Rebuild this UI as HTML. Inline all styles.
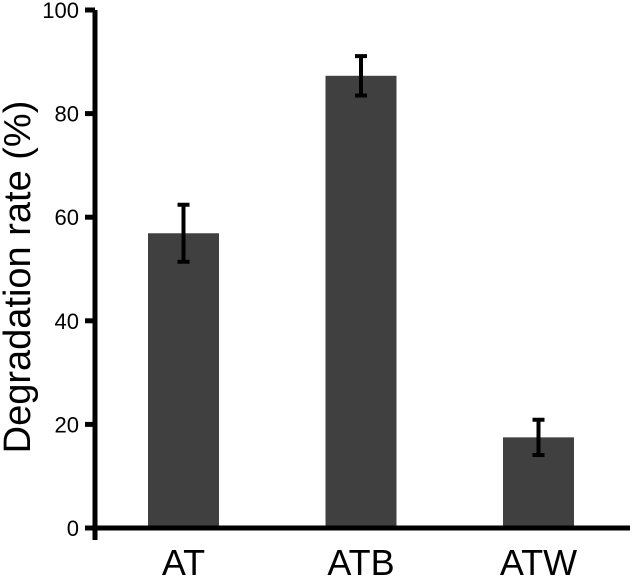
<!DOCTYPE html>
<html><head><meta charset="utf-8"><style>
body{margin:0;background:#fff}
svg{display:block;font-family:"Liberation Sans",sans-serif}
</style></head><body>
<svg width="633" height="580">
<g id="plot"></g>
<text transform="translate(30,277) rotate(-90)" text-anchor="middle" font-size="38" fill="#000">Degradation rate (%)</text>
</svg>
<script>
const categories = ["AT", "ATB", "ATW"];
const values = [56.9, 87.3, 17.5];
const errors = [5.5, 3.8, 3.4];
const yTicks = [0, 20, 40, 60, 80, 100];

const y0 = 528, y100 = 10, axisX = 95;
const y = v => y0 - (y0 - y100) * v / 100;
const centers = [183.5, 361, 538.5];
const x = i => centers[i];
const barW = 71;
const ns = "http://www.w3.org/2000/svg";
const g = document.getElementById('plot');
function mk(tag, attrs) {
  const e = document.createElementNS(ns, tag);
  for (const k in attrs) e.setAttribute(k, attrs[k]);
  g.appendChild(e);
  return e;
}
categories.forEach((c, i) => {
  const bar = mk('rect', {x: x(i) - barW / 2, y: y(values[i]), width: barW, height: y0 - y(values[i]), fill: '#404040'});
  
  
  const hi = y(values[i] + errors[i]), lo = y(values[i] - errors[i]);
  const eb = mk('path', {d: `M${x(i)},${hi}V${lo}M${x(i)-6},${hi}H${x(i)+6}M${x(i)-6},${lo}H${x(i)+6}`, stroke: '#000', 'stroke-width': 4, fill: 'none'});
  
  
  const t = mk('text', {x: x(i), y: 575, 'text-anchor': 'middle', 'font-size': 36, fill: '#000'});
  t.textContent = c;
  
  
});
const ya = mk('path', {d: `M${axisX},${y100}V${y0 + 12}`, stroke: '#000', 'stroke-width': 5, fill: 'none'});


const xa = mk('path', {d: `M${axisX - 2},${y0}H630`, stroke: '#000', 'stroke-width': 5, fill: 'none'});


yTicks.forEach(v => {
  const tk = mk('path', {d: `M85,${y(v)}H${axisX}`, stroke: '#000', 'stroke-width': 5});
  
  
  const t = mk('text', {x: 79, y: y(v) + 8, 'text-anchor': 'end', 'font-size': 22, fill: '#000'});
  t.textContent = v;
  
  
});
</script>
</body></html>
